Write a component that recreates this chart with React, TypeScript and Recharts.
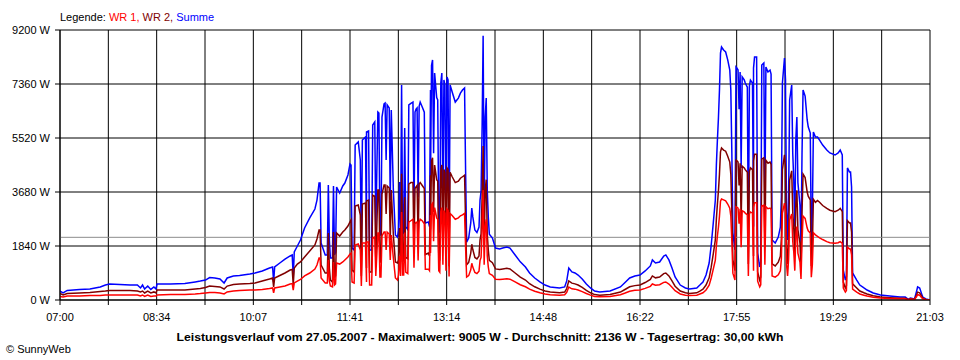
import React from 'react';
import {
    LineChart,
    Line,
    XAxis,
    YAxis,
    CartesianGrid,
    ReferenceLine,
} from 'recharts';

// minutes after 07:00, one entry per reading
const MINUTES = [
    0, 3, 7, 19, 29, 39, 44, 48, 58, 68,
    75, 78, 80, 82, 85, 88, 91, 93, 94, 107,
    121, 131, 136, 141, 145, 150, 155, 159, 162, 168,
    174, 184, 189, 196, 203, 206, 207, 208, 213, 218,
    223, 225, 226, 227, 230, 233, 237, 242, 247, 249,
    251, 252, 253, 257, 259, 260, 261, 262, 264, 265,
    266, 267, 268, 271, 274, 276, 279, 281, 282, 283,
    285, 286, 289, 291, 292, 293, 296, 297, 297, 299,
    300, 302, 303, 305, 306, 308, 309, 310, 311, 312,
    314, 315, 316, 317, 319, 320, 321, 323, 325, 327,
    328, 329, 330, 331, 332, 333, 334, 335, 337, 338,
    340, 342, 343, 344, 345, 346, 347, 348, 349, 351,
    353, 354, 357, 358, 359, 359, 360, 361, 362, 363,
    365, 366, 367, 368, 369, 370, 371, 372, 373, 374,
    375, 376, 377, 378, 380, 383, 386, 388, 390, 392,
    393, 394, 396, 398, 399, 400, 402, 404, 406, 407,
    408, 409, 410, 411, 412, 413, 414, 415, 416, 419,
    422, 426, 429, 433, 436, 441, 446, 451, 455, 460,
    465, 470, 475, 484, 489, 491, 493, 496, 499, 502,
    506, 510, 514, 518, 523, 533, 543, 547, 552, 557,
    562, 567, 572, 574, 577, 581, 585, 587, 590, 593,
    596, 601, 606, 610, 617, 620, 623, 626, 629, 631,
    633, 635, 636, 637, 638, 639, 640, 641, 643, 645,
    647, 649, 650, 651, 652, 654, 655, 656, 657, 658,
    659, 660, 661, 663, 664, 666, 667, 668, 669, 671,
    672, 672, 673, 675, 676, 678, 679, 680, 682, 683,
    684, 686, 688, 689, 690, 693, 696, 698, 699, 700,
    702, 703, 703, 704, 705, 706, 707, 709, 710, 711,
    712, 713, 714, 715, 717, 718, 719, 720, 722, 724,
    725, 727, 728, 729, 730, 732, 734, 736, 739, 743,
    746, 751, 754, 756, 758, 759, 761, 762, 763, 765,
    766, 767, 768, 772, 775, 779, 782, 788, 795, 804,
    814, 819, 822, 824, 828, 830, 831, 833, 835, 836,
    839, 843,
];

// Summe (W)
const SUMME = [
    305, 240, 325, 360, 375, 445, 510, 545, 530, 510,
    510, 410, 510, 375, 475, 360, 445, 375, 545, 545,
    560, 615, 645, 680, 765, 750, 715, 580, 750, 820,
    835, 885, 920, 990, 1090, 1125, 615, 1125, 1260, 1395,
    1500, 1535, 785, 1635, 1840, 2045, 2455, 2795, 3100, 3405,
    3985, 3985, 1940, 1535, 1535, 3920, 2045, 1430, 1430, 3885,
    1535, 1635, 3850, 3645, 3885, 3985, 4260, 4635, 4600, 1770,
    1705, 5280, 5385, 4770, 1535, 5450, 5555, 2045, 5725, 5760,
    1705, 1705, 5960, 6065, 2385, 6405, 6370, 2215, 2215, 6235,
    6680, 6710, 4770, 6645, 6540, 3405, 6475, 3750, 2215, 2145,
    2385, 4020, 2215, 7325, 2250, 2300, 5860, 2500, 2400, 6645,
    6700, 6745, 3000, 6405, 6500, 6540, 3500, 6600, 6745, 6575,
    6400, 2625, 2660, 2500, 7155, 4000, 8000, 8180, 5000, 7735,
    6900, 6815, 2500, 2300, 7400, 7735, 3000, 7500, 7325, 2400,
    7600, 7500, 1950, 7325, 7085, 6745, 6880, 7050, 7155, 7225,
    4430, 1975, 2110, 2625, 3135, 2830, 2385, 2300, 2485, 3405,
    3700, 5860, 9005, 3000, 6235, 6880, 3750, 2830, 2245, 2110,
    1770, 1740, 1770, 1805, 1770, 1535, 1300, 1125, 920, 750,
    615, 510, 445, 410, 445, 650, 1090, 955, 920, 850,
    715, 545, 410, 305, 275, 305, 445, 580, 750, 820,
    850, 990, 1160, 1365, 1260, 1295, 1500, 1535, 1365, 1090,
    785, 510, 410, 375, 410, 510, 615, 850, 1260, 1870,
    2625, 3405, 4600, 5450, 6200, 7155, 8415, 8620, 8520, 8450,
    8180, 7835, 7155, 5000, 2285, 1705, 7940, 7900, 7835, 6500,
    7770, 4500, 7600, 7500, 7395, 7255, 2045, 7300, 7495, 7395,
    2500, 7900, 8280, 8280, 1600, 1125, 1300, 8005, 8075, 3000,
    7940, 7770, 7835, 7700, 2045, 1940, 2145, 2485, 3500, 7395,
    8245, 7500, 7155, 3000, 2045, 3500, 6815, 7325, 5000, 4090,
    2500, 5500, 6235, 4000, 3230, 1805, 5000, 7155, 6950, 6135,
    5900, 5690, 1940, 3000, 5725, 5555, 5555, 5450, 5280, 5110,
    5010, 4940, 5010, 5110, 4940, 1020, 680, 800, 4500, 4360,
    4360, 3850, 920, 680, 510, 410, 340, 240, 170, 135,
    100, 100, 20, 70, 35, 300, 445, 410, 200, 100,
    35, 0,
];

// WR 2 (W)
const WR2 = [
    220, 170, 220, 240, 255, 290, 305, 325, 325, 325,
    305, 275, 305, 240, 305, 240, 275, 240, 340, 340,
    340, 375, 390, 425, 475, 460, 445, 375, 475, 530,
    545, 560, 580, 645, 715, 750, 445, 750, 835, 920,
    1020, 1040, 510, 1090, 1225, 1295, 1465, 1670, 1875, 2080,
    2385, 2385, 1190, 920, 920, 2285, 1090, 680, 615, 2315,
    750, 820, 2285, 2180, 2315, 2385, 2520, 2660, 2725, 1020,
    955, 3200, 3235, 2895, 820, 3270, 3305, 1090, 3375, 3405,
    955, 955, 3575, 3540, 1295, 3750, 3750, 1295, 1295, 3610,
    3920, 3920, 2930, 3885, 3815, 2045, 3750, 2215, 1295, 1260,
    1365, 2455, 1295, 4300, 1300, 1350, 3500, 1450, 1400, 3950,
    4000, 4000, 1800, 3800, 3850, 3900, 2100, 3950, 4000, 3900,
    3800, 1550, 1600, 1500, 4250, 2400, 4750, 4850, 3000, 4600,
    4100, 4050, 1500, 1350, 4400, 4600, 1800, 4450, 4350, 1400,
    4500, 4450, 1150, 4350, 4200, 4000, 4050, 4150, 4200, 4250,
    2650, 1200, 1280, 1600, 1900, 1720, 1450, 1400, 1500, 2050,
    2250, 3500, 5250, 1800, 3750, 4100, 2250, 1700, 1350, 1270,
    1060, 1040, 1060, 1080, 1060, 920, 780, 680, 555, 450,
    370, 305, 270, 245, 270, 390, 650, 575, 550, 510,
    430, 330, 245, 185, 165, 185, 270, 350, 450, 490,
    510, 595, 700, 820, 755, 780, 900, 920, 820, 655,
    470, 305, 245, 225, 245, 305, 370, 510, 755, 1120,
    1575, 2045, 2760, 3270, 3720, 4290, 5050, 5180, 5110, 5070,
    4900, 4700, 4290, 3000, 1370, 1000, 4760, 4740, 4700, 3900,
    4660, 2700, 4560, 4500, 4440, 4350, 1230, 4380, 4500, 4440,
    1500, 4740, 4970, 4970, 960, 675, 780, 4800, 4845, 1800,
    4760, 4660, 4700, 4620, 1230, 1160, 1290, 1490, 2100, 4440,
    4950, 4500, 4290, 1800, 1230, 2100, 4090, 4400, 3000, 2450,
    1500, 3300, 3740, 2400, 1940, 1080, 3000, 4290, 4170, 3680,
    3540, 3410, 1160, 1800, 3430, 3330, 3390, 3330, 3220, 3120,
    3060, 3010, 3060, 3120, 3010, 610, 410, 480, 2700, 2620,
    2620, 2310, 550, 410, 305, 245, 205, 145, 100, 80,
    60, 60, 10, 40, 20, 180, 270, 245, 120, 60,
    20, 0,
];

// WR 1 (W)
const WR1 = [
    120, 100, 135, 135, 155, 155, 170, 170, 170, 170,
    170, 135, 170, 120, 170, 120, 135, 135, 170, 185,
    185, 205, 220, 240, 255, 255, 240, 205, 275, 305,
    325, 340, 340, 360, 390, 410, 240, 410, 445, 475,
    545, 560, 340, 580, 645, 700, 820, 920, 1055, 1190,
    1430, 1430, 750, 580, 580, 1365, 645, 475, 445, 1295,
    510, 545, 1260, 1225, 1295, 1365, 1465, 1570, 1600, 615,
    580, 1875, 1910, 1705, 475, 1940, 1940, 615, 1975, 1975,
    510, 510, 2110, 2145, 820, 2285, 2285, 785, 785, 2180,
    2315, 2315, 1705, 2315, 2250, 1365, 2215, 1430, 750, 680,
    850, 1500, 820, 3000, 850, 850, 2300, 950, 900, 2650,
    2700, 2750, 1100, 2600, 2650, 2650, 1350, 2650, 2750, 2700,
    2600, 1050, 1050, 1000, 2900, 1600, 3250, 3300, 2000, 3150,
    2800, 2750, 1000, 950, 3000, 3150, 1200, 3050, 2950, 1000,
    3100, 3050, 800, 2950, 2880, 2750, 2800, 2870, 2900, 2950,
    1800, 780, 830, 1030, 1250, 1120, 940, 900, 980, 1350,
    1450, 2350, 3750, 1200, 2500, 2750, 1500, 1130, 900, 840,
    710, 700, 710, 720, 710, 615, 520, 450, 370, 300,
    245, 205, 180, 165, 180, 260, 440, 380, 370, 340,
    285, 220, 165, 120, 110, 120, 180, 230, 300, 330,
    340, 395, 465, 545, 505, 520, 600, 615, 545, 435,
    315, 205, 165, 150, 165, 205, 245, 340, 505, 750,
    1050, 1360, 1840, 2180, 2480, 2860, 3365, 3440, 3410, 3380,
    3270, 3130, 2860, 2000, 915, 680, 3180, 3160, 3130, 2600,
    3110, 1800, 3040, 3000, 2960, 2900, 820, 2920, 3000, 2960,
    1000, 3160, 3310, 3310, 640, 450, 520, 3200, 3230, 1200,
    3180, 3110, 3130, 3080, 820, 780, 860, 995, 1400, 2960,
    3300, 3000, 2860, 1200, 820, 1400, 2730, 2930, 2000, 1640,
    1000, 2200, 2500, 1600, 1290, 720, 2000, 2860, 2780, 2450,
    2360, 2280, 780, 1200, 2290, 2220, 2165, 2120, 2060, 1990,
    1950, 1930, 1950, 1990, 1930, 410, 270, 320, 1800, 1740,
    1740, 1540, 370, 270, 205, 165, 135, 95, 70, 55,
    40, 40, 10, 30, 15, 120, 180, 165, 80, 40,
    15, 0,
];

const TIME_LABELS = [
    '07:00', '08:34', '10:07', '11:41', '13:14',
    '14:48', '16:22', '17:55', '19:29', '21:03',
];
const POWER_TICKS = [0, 1840, 3680, 5520, 7360, 9200];
const AVERAGE_W = 2136;
const SPAN_MIN = 843;
const GRID_STEPS = 18;

const FONT = '"Liberation Sans", Arial, sans-serif';

const chartData = MINUTES.map((t, i) => ({
    t,
    summe: SUMME[i],
    wr2: WR2[i],
    wr1: WR1[i],
}));

const timeTicks = Array.from(
    { length: GRID_STEPS + 1 },
    (_, i) => (i * SPAN_MIN) / GRID_STEPS,
);

const formatTime = (v: number) => {
    const k = Math.round((v * GRID_STEPS) / SPAN_MIN);
    return k % 2 === 0 ? TIME_LABELS[k / 2] : '';
};

const tickStyle = { fill: '#000', fontSize: 11, fontFamily: FONT };

export default function App() {
    return (
        <div
            style={{
                position: 'absolute',
                left: 0,
                top: 0,
                width: 960,
                height: 360,
                background: '#fff',
            }}
        >
            <LineChart
                width={960}
                height={360}
                data={chartData}
                margin={{ top: 30, right: 30, bottom: 0, left: 0 }}
            >
                <CartesianGrid stroke="#000" />
                <XAxis
                    dataKey="t"
                    type="number"
                    domain={[0, SPAN_MIN]}
                    ticks={timeTicks}
                    interval={0}
                    tickFormatter={formatTime}
                    height={60}
                    tickSize={5}
                    tickMargin={8}
                    axisLine={{ stroke: '#000' }}
                    tickLine={{ stroke: '#000' }}
                    tick={tickStyle}
                    allowDataOverflow
                />
                <YAxis
                    type="number"
                    domain={[0, 9200]}
                    ticks={POWER_TICKS}
                    interval={0}
                    tickFormatter={(v: number) => `${v} W`}
                    width={60}
                    tickSize={5}
                    tickMargin={5}
                    axisLine={{ stroke: '#000' }}
                    tickLine={{ stroke: '#000' }}
                    tick={tickStyle}
                    allowDataOverflow
                />
                <ReferenceLine y={AVERAGE_W} stroke="#8c8c8c" />
                <Line
                    dataKey="summe"
                    type="linear"
                    stroke="#0000ff"
                    strokeWidth={1.5}
                    dot={false}
                    isAnimationActive={false}
                />
                <Line
                    dataKey="wr2"
                    type="linear"
                    stroke="#800000"
                    strokeWidth={1.5}
                    dot={false}
                    isAnimationActive={false}
                />
                <Line
                    dataKey="wr1"
                    type="linear"
                    stroke="#ff0000"
                    strokeWidth={1.5}
                    dot={false}
                    isAnimationActive={false}
                />
            </LineChart>
            <svg
                width={960}
                height={360}
                style={{ position: 'absolute', left: 0, top: 0, pointerEvents: 'none' }}
                fontFamily={FONT}
                fontSize={11}
            >
                <text x={60} y={21}>
                    <tspan fill="#000">Legende: </tspan>
                    <tspan fill="#ff0000">WR 1, </tspan>
                    <tspan fill="#800000">WR 2, </tspan>
                    <tspan fill="#0000ff">Summe</tspan>
                </text>
                <text
                    x={480}
                    y={341}
                    textAnchor="middle"
                    fontWeight="bold"
                    textLength={607}
                    lengthAdjust="spacingAndGlyphs"
                >
                    Leistungsverlauf vom 27.05.2007 - Maximalwert: 9005 W - Durchschnitt: 2136 W - Tagesertrag: 30,00 kWh
                </text>
                <text x={6} y={353}>
                    © SunnyWeb
                </text>
            </svg>
        </div>
    );
}
